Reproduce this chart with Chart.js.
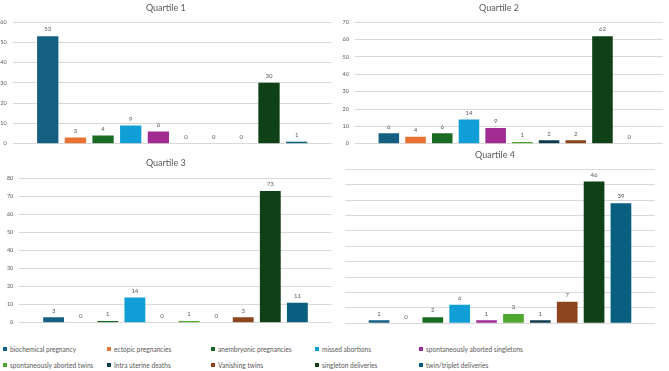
<!DOCTYPE html>
<html>
<head>
<meta charset="utf-8">
<script src="https://cdn.jsdelivr.net/npm/chart.js@4.4.1/dist/chart.umd.min.js"></script>
<style>
  html, body { margin: 0; padding: 0; background: #fff; }
  #page { position: relative; width: 669px; height: 371px; overflow: hidden; font-family: Lato, sans-serif; }
  .panel { position: absolute; }
  #legend {
    position: absolute; left: 3px; top: 341px;
    display: grid; grid-template-columns: repeat(5, 104px); grid-auto-rows: 15.7px;
    font-size: 6.6px; color: #595959; white-space: nowrap;
  }
  .item { display: flex; align-items: center; }
  .swatch { width: 4px; height: 4px; margin-right: 3px; flex: none; }
</style>
</head>
<body>
<div id="page">
  <!-- y-axis labels reserve ~9.3px below the plot, so panels with ticks are a bit taller -->
  <div class="panel" style="left:0;top:0;width:335px;height:153px"><canvas id="q1"></canvas></div>
  <div class="panel" style="left:335px;top:0;width:334px;height:153px"><canvas id="q2"></canvas></div>
  <div class="panel" style="left:0;top:155px;width:335px;height:177px"><canvas id="q3"></canvas></div>
  <div class="panel" style="left:335px;top:145px;width:334px;height:185px"><canvas id="q4"></canvas></div>
  <div id="legend"></div>
</div>
<script>
// ---- data ----
const categories = [
  'biochemical pregnancy', 'ectopic pregnancies', 'anembryonic pregnancies',
  'missed abortions', 'spontaneously aborted singletons', 'spontaneously aborted twins',
  'Intra uterine deaths', 'Vanishing twins', 'singleton deliveries', 'twin/triplet deliveries'
];
const quartile1 = [53, 3, 4, 9, 6, 0, 0, 0, 30, 1];
const quartile2 = [6, 4, 6, 14, 9, 1, 2, 2, 62, 0];
const quartile3 = [3, 0, 1, 14, 0, 1, 0, 3, 73, 11];
const quartile4 = [1, 0, 2, 6, 1, 3, 1, 7, 46, 39];
const titles = ['Quartile 1', 'Quartile 2', 'Quartile 3', 'Quartile 4'];
const yMax = [60, 70, 80, 50];
const yStep = [10, 10, 10, 5];

// Office palette
const colors = ['#156082', '#E97132', '#196B24', '#0F9ED5', '#A02B93',
                '#4EA72E', '#0D3A4E', '#8C441E', '#0F4016', '#095F80'];

Chart.defaults.font.family = 'Lato, sans-serif';
Chart.defaults.color = '#595959';

// value labels above each bar (no datalabels plugin available)
const valueLabels = {
  id: 'valueLabels',
  afterDatasetsDraw(chart) {
    const ctx = chart.ctx;
    ctx.save();
    ctx.font = '6px Lato, sans-serif';
    ctx.fillStyle = '#595959';
    ctx.textAlign = 'center';
    ctx.textBaseline = 'alphabetic';
    chart.data.datasets.forEach((ds, i) => {
      chart.getDatasetMeta(i).data.forEach((bar, j) => {
        ctx.fillText(ds.data[j], bar.x, bar.y - 4.7);
      });
    });
    ctx.restore();
  }
};

// per-panel layout tuning
const layouts = [
  { axisW: 12.7, pad: { left: 0, right: 3.3, top: 0, bottom: 0 },   tPad: { top: 2.6, bottom: 8.6 }, ticks: true },
  { axisW: 20,   pad: { left: 0, right: 6,   top: 0, bottom: 0 },   tPad: { top: 2.6, bottom: 8.9 }, ticks: true },
  { axisW: 19.3, pad: { left: 0, right: 3.3, top: 0, bottom: 0 },   tPad: { top: 2.6, bottom: 9.9 }, ticks: true },
  { axisW: 10,   pad: { left: 0, right: 14,  top: 0, bottom: 6.7 }, tPad: { top: 5.1, bottom: 8.4 }, ticks: false }
];

function makeChart(id, values, idx) {
  const L = layouts[idx];
  return new Chart(document.getElementById(id), {
    type: 'bar',
    data: {
      labels: [''],
      datasets: categories.map((c, i) => ({
        label: c,
        data: [values[i]],
        backgroundColor: colors[i],
        categoryPercentage: 0.867,
        barPercentage: 0.77
      }))
    },
    options: {
      responsive: true, maintainAspectRatio: false, animation: false,
      layout: { padding: L.pad },
      scales: {
        x: { display: false },
        y: {
          min: 0, max: yMax[idx],
          border: { display: false },
          grid: { color: '#d9d9d9', drawTicks: false },
          ticks: { display: L.ticks, stepSize: yStep[idx], padding: 6, color: '#595959', font: { size: 5.5 } },
          afterFit(scale) { scale.width = L.axisW; }
        }
      },
      plugins: {
        legend: { display: false },
        tooltip: { enabled: false },
        title: {
          display: true, text: titles[idx], color: '#595959',
          font: { size: 9, weight: 'normal' }, padding: L.tPad
        }
      }
    },
    plugins: [valueLabels]
  });
}

makeChart('q1', quartile1, 0);
makeChart('q2', quartile2, 1);
makeChart('q3', quartile3, 2);
makeChart('q4', quartile4, 3);

// shared legend
const legend = document.getElementById('legend');
categories.forEach((c, i) => {
  const item = document.createElement('div');
  item.className = 'item';
  const sw = document.createElement('span');
  sw.className = 'swatch';
  sw.style.background = colors[i];
  item.appendChild(sw);
  item.appendChild(document.createTextNode(c));
  legend.appendChild(item);
});
</script>
</body>
</html>
